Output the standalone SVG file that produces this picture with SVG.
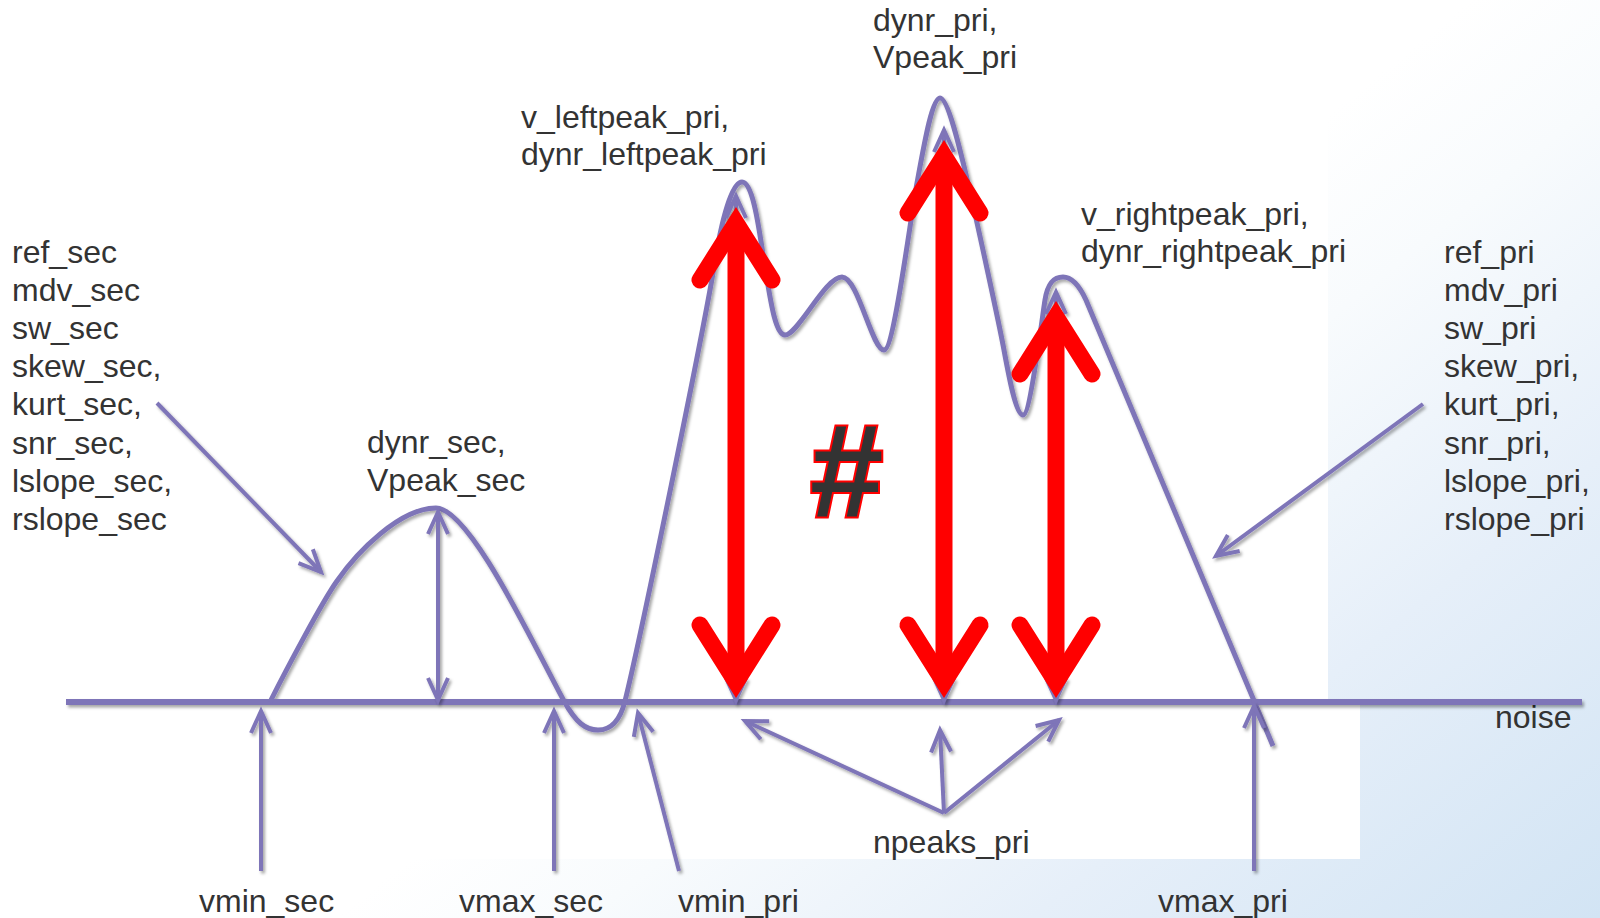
<svg xmlns="http://www.w3.org/2000/svg" width="1600" height="918" viewBox="0 0 1600 918">
<defs>
<linearGradient id="bg" x1="1600" y1="918" x2="1100" y2="300" gradientUnits="userSpaceOnUse">
<stop offset="0" stop-color="#d2e4f4"/>
<stop offset="0.45" stop-color="#e6eff9"/>
<stop offset="0.8" stop-color="#f8fbfd"/>
<stop offset="1" stop-color="#ffffff"/>
</linearGradient>
<filter id="sh" x="-5%" y="-5%" width="110%" height="110%">
<feDropShadow dx="2" dy="2.5" stdDeviation="1.5" flood-color="#000" flood-opacity="0.35"/>
</filter>
<marker id="ph" markerUnits="userSpaceOnUse" orient="auto-start-reverse" overflow="visible" refX="0" refY="0" markerWidth="30" markerHeight="30">
<path d="M-22,-10 L0,0 L-22,10" fill="none" stroke="#7e74b8" stroke-width="4"/>
</marker>
<style>
text{font-family:"Liberation Sans",Arial,sans-serif;font-size:32px;fill:#333333}
.pu{fill:none;stroke:#7e74b8;stroke-width:4}
.arr{marker-end:url(#ph)}
.dbl{marker-start:url(#ph);marker-end:url(#ph)}
.red{fill:none;stroke:#ff0000;stroke-width:17}
.rh{fill:none;stroke:#ff0000;stroke-width:17;stroke-linejoin:miter;stroke-linecap:round}
</style>
</defs>
<rect x="0" y="0" width="1600" height="918" fill="url(#bg)"/>
<rect x="0" y="0" width="1328" height="700" fill="#ffffff"/>
<rect x="0" y="700" width="1360" height="159" fill="#ffffff"/>

<g id="labels">
<g id="sec-params">
<text x="12" y="263">ref_sec</text>
<text x="12" y="301">mdv_sec</text>
<text x="12" y="339">sw_sec</text>
<text x="12" y="377">skew_sec,</text>
<text x="12" y="415">kurt_sec,</text>
<text x="12" y="454">snr_sec,</text>
<text x="12" y="492">lslope_sec,</text>
<text x="12" y="530">rslope_sec</text>
</g>
<g id="pri-params">
<text x="1444" y="263">ref_pri</text>
<text x="1444" y="301">mdv_pri</text>
<text x="1444" y="339">sw_pri</text>
<text x="1444" y="377">skew_pri,</text>
<text x="1444" y="415">kurt_pri,</text>
<text x="1444" y="454">snr_pri,</text>
<text x="1444" y="492">lslope_pri,</text>
<text x="1444" y="530">rslope_pri</text>
</g>
<g id="peak-pri"><text x="873" y="31">dynr_pri,</text><text x="873" y="68">Vpeak_pri</text></g>
<g id="leftpeak"><text x="521" y="128">v_leftpeak_pri,</text><text x="521" y="165">dynr_leftpeak_pri</text></g>
<g id="rightpeak"><text x="1081" y="225">v_rightpeak_pri,</text><text x="1081" y="262">dynr_rightpeak_pri</text></g>
<g id="peak-sec"><text x="367" y="453">dynr_sec,</text><text x="367" y="491">Vpeak_sec</text></g>
<g id="noise"><text x="1495" y="728">noise</text></g>
<g id="npeaks"><text x="873" y="853">npeaks_pri</text></g>
<g id="vmin-sec"><text x="199" y="912">vmin_sec</text></g>
<g id="vmax-sec"><text x="459" y="912">vmax_sec</text></g>
<g id="vmin-pri"><text x="678" y="912">vmin_pri</text></g>
<g id="vmax-pri"><text x="1158" y="912">vmax_pri</text></g>
</g>

<g id="signal" filter="url(#sh)">
<line id="baseline" x1="66" y1="702" x2="1582" y2="702" stroke="#7e74b8" stroke-width="6"/>
<path id="curve" class="pu" d="M270,702 C285,672 322,602 337,581 C357,552 400,508 436,508 C470,508 534,646 564,701 C576,723 586,730 598,730 C610,730 620,721 625,701 C640,641 704,329 714,267 C719,236 730,182 742,182 C754,182 760,237 765,267 C770,297 775,335 785,335 C798,335 825,277 842,277 C858,277 872,350 884,350 C894,350 910,221 917,183 C924,145 932,98 940,98 C948,98 960,149 968,183 C976,217 999,323 1004,350 C1009,377 1016,415 1023,415 C1030,415 1041,326 1045,300 C1048,281 1055,277 1063,277 C1072,277 1080,287 1086,300 L1273,746" style="stroke-width:5"/>
</g>

<g id="connectors" filter="url(#sh)">
<line class="pu arr" x1="157" y1="403" x2="321" y2="572"/>
<line class="pu arr" x1="1423" y1="404" x2="1216" y2="556"/>
<line class="pu dbl" x1="438" y1="700" x2="438" y2="512"/>
<line class="pu arr" x1="261" y1="871" x2="261" y2="711"/>
<line class="pu arr" x1="554" y1="871" x2="554" y2="711"/>
<line class="pu arr" x1="679" y1="871" x2="638" y2="713"/>
<line class="pu arr" x1="944" y1="813" x2="745" y2="721"/>
<line class="pu arr" x1="944" y1="813" x2="940" y2="730"/>
<line class="pu arr" x1="944" y1="813" x2="1059" y2="720"/>
<line class="pu arr" x1="1254" y1="871" x2="1254" y2="706"/>
<line class="pu dbl" x1="736" y1="700" x2="736" y2="196"/>
<line class="pu dbl" x1="944" y1="700" x2="944" y2="130"/>
<line class="pu dbl" x1="1056" y1="700" x2="1056" y2="292"/>
</g>

<g id="red-arrows">
<g id="red-left">
<line class="red" x1="736" y1="223" x2="736" y2="682"/>
<path class="rh" d="M700,280 L736,223 L772,280"/>
<path class="rh" d="M700,625 L736,682 L772,625"/>
</g>
<g id="red-mid">
<line class="red" x1="944" y1="156" x2="944" y2="682"/>
<path class="rh" d="M908,213 L944,156 L980,213"/>
<path class="rh" d="M908,625 L944,682 L980,625"/>
</g>
<g id="red-right">
<line class="red" x1="1056" y1="317" x2="1056" y2="682"/>
<path class="rh" d="M1020,374 L1056,317 L1092,374"/>
<path class="rh" d="M1020,625 L1056,682 L1092,625"/>
</g>
</g>

<g id="hash">
<text x="810" y="517" style="font-size:132px;font-weight:bold;fill:#333333;stroke:#ff0000;stroke-width:4;paint-order:stroke">#</text>
</g>
</svg>
